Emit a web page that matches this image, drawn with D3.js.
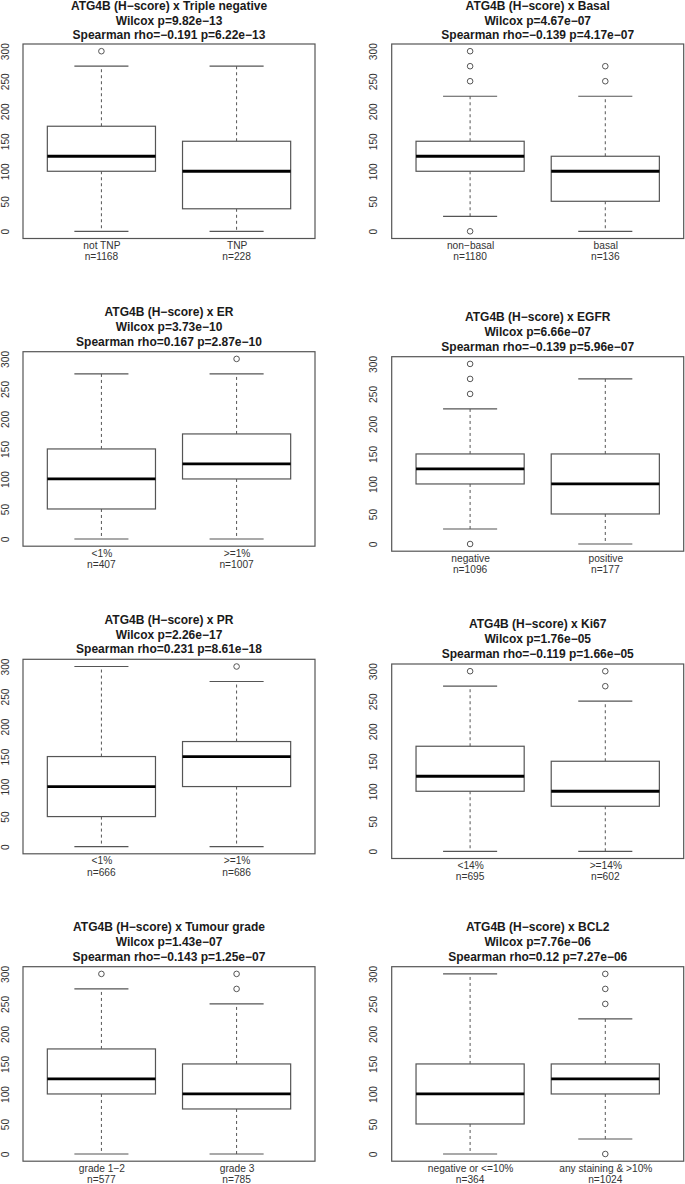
<!DOCTYPE html>
<html>
<head>
<meta charset="utf-8">
<script src="https://cdn.jsdelivr.net/npm/d3@7"></script>
<style>
  html, body { margin: 0; padding: 0; background: #fff; }
  svg { display: block; }
  text { font-family: "Liberation Sans", Arial, Helvetica, sans-serif; }
</style>
</head>
<body>
<svg id="chart" width="685" height="1184"></svg>
<script>
// ---------- data ----------
const titles = [
  "ATG4B (H\u2212score) x Triple negative",
  "ATG4B (H\u2212score) x Basal",
  "ATG4B (H\u2212score) x ER",
  "ATG4B (H\u2212score) x EGFR",
  "ATG4B (H\u2212score) x PR",
  "ATG4B (H\u2212score) x Ki67",
  "ATG4B (H\u2212score) x Tumour grade",
  "ATG4B (H\u2212score) x BCL2"
];
const wilcoxLines = [
  "Wilcox p=9.82e\u221213",
  "Wilcox p=4.67e\u221207",
  "Wilcox p=3.73e\u221210",
  "Wilcox p=6.66e\u221207",
  "Wilcox p=2.26e\u221217",
  "Wilcox p=1.76e\u221205",
  "Wilcox p=1.43e\u221207",
  "Wilcox p=7.76e\u221206"
];
const spearmanLines = [
  "Spearman rho=\u22120.191 p=6.22e\u221213",
  "Spearman rho=\u22120.139 p=4.17e\u221207",
  "Spearman rho=0.167 p=2.87e\u221210",
  "Spearman rho=\u22120.139 p=5.96e\u221207",
  "Spearman rho=0.231 p=8.61e\u221218",
  "Spearman rho=\u22120.119 p=1.66e\u221205",
  "Spearman rho=\u22120.143 p=1.25e\u221207",
  "Spearman rho=0.12 p=7.27e\u221206"
];
const groupLabels = [
  ["not TNP", "TNP"],
  ["non\u2212basal", "basal"],
  ["<1%", ">=1%"],
  ["negative", "positive"],
  ["<1%", ">=1%"],
  ["<14%", ">=14%"],
  ["grade 1\u22122", "grade 3"],
  ["negative or <=10%", "any staining & >10%"]
];
const groupN = [
  [1168, 228],
  [1180, 136],
  [407, 1007],
  [1096, 177],
  [666, 686],
  [695, 602],
  [577, 785],
  [364, 1024]
];
const whiskerLow = [[0, 0], [25, 0], [0, 0], [25, 0], [0, 0], [0, 0], [0, 0], [0, 25]];
const quartile1  = [[100, 37.5], [100, 50], [50, 100], [100, 50], [50, 100], [100, 75], [100, 75], [50, 100]];
const medians    = [[125, 100], [125, 100], [100, 125], [125, 100], [100, 150], [125, 100], [125, 100], [100, 125]];
const quartile3  = [[175, 150], [150, 125], [150, 175], [150, 150], [150, 175], [175, 150], [175, 150], [150, 150]];
const whiskerHigh= [[275, 275], [225, 225], [275, 275], [225, 275], [300, 275], [275, 250], [275, 250], [300, 225]];
const outliers = [
  [[300], []],
  [[300, 275, 250, 0], [275, 250]],
  [[], [300]],
  [[300, 275, 250, 0], []],
  [[], [300]],
  [[300], [300, 275]],
  [[300], [300, 275]],
  [[], [300, 275, 250, 0]]
];
const yTicks = [0, 50, 100, 150, 200, 250, 300];

// ---------- layout ----------
const colLeft = [23, 391.7];
const plotW = 292;
const plotH = 194.5;
const panelTop = [44, 44, 351.7, 356.7, 659.3, 664, 966.7, 966.7];
const frameColor = "#555";
const textColor = "#333";

const svg = d3.select("#chart");

titles.forEach((title, p) => {
  const left = colLeft[p % 2];
  const top = panelTop[p];
  const bottom = top + plotH;
  const x = d3.scaleLinear().domain([0.42, 2.58]).range([left, left + plotW]);
  const y = d3.scaleLinear().domain([-12, 312]).range([bottom, top]);
  const g = svg.append("g");
  const cx = left + plotW / 2;

  // titles
  const firstRow = p < 2;
  const offs = firstRow ? [-37.8, -23.3, -9.3] : [-39.8, -24.8, -10.4];
  [[title, offs[0]], [wilcoxLines[p], offs[1]], [spearmanLines[p], offs[2]]].forEach(([t, off]) => {
    g.append("text")
      .attr("x", cx).attr("y", top + off)
      .attr("dy", "0.35em")
      .attr("text-anchor", "middle")
      .attr("font-size", "12px")
      .attr("font-weight", "bold")
      .attr("fill", "#1a1a1a")
      .text(t);
  });

  // y axis
  const yAxis = d3.axisLeft(y).tickValues(yTicks).tickSize(0).tickFormat(d3.format("d"));
  const ya = g.append("g").attr("transform", `translate(${left},0)`).call(yAxis);
  ya.select(".domain").remove();
  ya.selectAll("text")
    .attr("x", null)
    .attr("dy", "0.35em")
    .attr("text-anchor", "middle")
    .attr("transform", "translate(-18,0) rotate(-90)")
    .attr("font-size", "10.2px")
    .attr("fill", textColor)
    .style("font-family", "'Liberation Sans', Arial, sans-serif");

  // x labels
  const xAxis = d3.axisBottom(x).tickValues([1, 2]).tickSize(0)
    .tickFormat((d) => groupLabels[p][d - 1]);
  const xa = g.append("g").attr("transform", `translate(0,${bottom})`).call(xAxis);
  xa.select(".domain").remove();
  xa.selectAll("text")
    .attr("y", 6.8).attr("dy", "0.35em")
    .attr("font-size", "10.2px")
    .attr("fill", textColor)
    .style("font-family", "'Liberation Sans', Arial, sans-serif");
  groupN[p].forEach((n, i) => {
    g.append("text")
      .attr("x", x(i + 1)).attr("y", bottom + 18.4)
      .attr("dy", "0.35em")
      .attr("text-anchor", "middle")
      .attr("font-size", "10.2px")
      .attr("fill", textColor)
      .text("n=" + n);
  });

  // boxes
  [0, 1].forEach((i) => {
    const c = x(i + 1);
    const halfBox = (x(1.4) - x(1));
    const halfCap = (x(1.2) - x(1));
    g.append("line")
      .attr("x1", c).attr("x2", c)
      .attr("y1", y(quartile3[p][i])).attr("y2", y(whiskerHigh[p][i]))
      .attr("stroke", frameColor).attr("stroke-width", 1).attr("stroke-dasharray", "3,3");
    g.append("line")
      .attr("x1", c).attr("x2", c)
      .attr("y1", y(quartile1[p][i])).attr("y2", y(whiskerLow[p][i]))
      .attr("stroke", frameColor).attr("stroke-width", 1).attr("stroke-dasharray", "3,3");
    [whiskerHigh[p][i], whiskerLow[p][i]].forEach((v) => {
      g.append("line")
        .attr("x1", c - halfCap).attr("x2", c + halfCap)
        .attr("y1", y(v)).attr("y2", y(v))
        .attr("stroke", frameColor).attr("stroke-width", 1.2);
    });
    g.append("rect")
      .attr("x", c - halfBox).attr("width", 2 * halfBox)
      .attr("y", y(quartile3[p][i]))
      .attr("height", y(quartile1[p][i]) - y(quartile3[p][i]))
      .attr("fill", "#fff")
      .attr("stroke", frameColor).attr("stroke-width", 1.2);
    g.append("line")
      .attr("x1", c - halfBox).attr("x2", c + halfBox)
      .attr("y1", y(medians[p][i])).attr("y2", y(medians[p][i]))
      .attr("stroke", "#000").attr("stroke-width", 2.8);
    outliers[p][i].forEach((v) => {
      g.append("circle")
        .attr("cx", c).attr("cy", y(v)).attr("r", 2.8)
        .attr("fill", "none").attr("stroke", frameColor).attr("stroke-width", 1);
    });
  });

  // frame
  g.append("rect")
    .attr("x", left).attr("y", top)
    .attr("width", plotW).attr("height", plotH)
    .attr("fill", "none").attr("stroke", frameColor).attr("stroke-width", 1.2);
});
</script>
</body>
</html>
